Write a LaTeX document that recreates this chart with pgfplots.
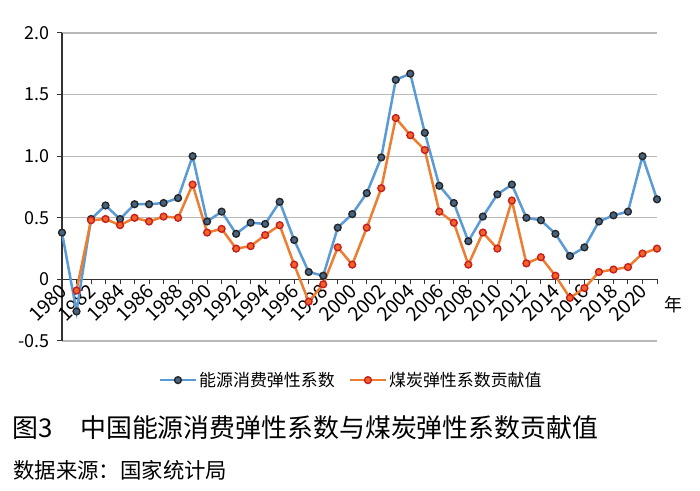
\documentclass[border=0pt]{standalone}
\usepackage{pgfplots}
\pgfplotsset{compat=1.18}
\usepackage{fontspec}
\setmainfont{Noto Sans CJK SC}
\definecolor{lblue}{RGB}{91,155,213}
\definecolor{lorange}{RGB}{237,125,49}
\definecolor{mblue}{RGB}{70,100,130}
\definecolor{mred}{RGB}{200,30,30}
\begin{document}
\begin{tikzpicture}
\useasboundingbox (0,0) rectangle (700bp,491bp);
\begin{axis}[
  at={(62bp,150bp)},anchor=south west,
  width=595bp,height=308bp,scale only axis,
  xmin=1980,xmax=2021,ymin=-0.5,ymax=2,
  axis y line=left,axis x line=middle,axis line style={-,black!80,line width=1.2bp},
  hide obscured x ticks=false,hide obscured y ticks=false,
  xtick={1980,1982,...,2020},
  minor xtick={1981,1983,...,2021},
  xticklabels={1980,1982,1984,1986,1988,1990,1992,1994,1996,1998,2000,2002,2004,2006,2008,2010,2012,2014,2016,2018,2020},
  ytick={-0.5,0,0.5,1,1.5,2},
  yticklabels={-0.5,0,0.5,1.0,1.5,2.0},
  tick align=outside,major tick length=5bp,minor tick length=5bp,
  tick style={black!80,line width=1bp},
  ymajorgrids,grid style={gray!55,line width=1.2bp},
  yticklabel style={font=\fontsize{18}{20}\selectfont,xshift=-4bp},
  xticklabel style={font=\fontsize{19.5}{21}\selectfont,rotate=45,anchor=east,xshift=2bp,yshift=-3bp},
  clip=false,
  legend style={at={(0.486,-0.127)},anchor=center,draw=none,fill=none,
    font=\fontsize{17}{19}\selectfont,legend columns=2,
    /tikz/every even column/.append style={column sep=12bp}},
  legend image code/.code={\draw[mark repeat=2,mark phase=2,#1] plot coordinates {(0bp,0bp) (18bp,0bp) (36bp,0bp)};},
]
\addplot[lblue,line width=2.5bp,mark=*,mark size=3.4bp,mark options={draw=black!85,fill=mblue,line width=1.4bp}] coordinates {
(1980,0.38) (1981,-0.26) (1982,0.49) (1983,0.60) (1984,0.49) (1985,0.61) (1986,0.61) (1987,0.62) (1988,0.66) (1989,1.00)
(1990,0.47) (1991,0.55) (1992,0.37) (1993,0.46) (1994,0.45) (1995,0.63) (1996,0.32) (1997,0.06) (1998,0.03) (1999,0.42)
(2000,0.53) (2001,0.70) (2002,0.99) (2003,1.62) (2004,1.67) (2005,1.19) (2006,0.76) (2007,0.62) (2008,0.31) (2009,0.51)
(2010,0.69) (2011,0.77) (2012,0.50) (2013,0.48) (2014,0.37) (2015,0.19) (2016,0.26) (2017,0.47) (2018,0.52) (2019,0.55)
(2020,1.00) (2021,0.65)};
\addlegendentry{能源消费弹性系数}
\addplot[lorange,line width=2.5bp,mark=*,mark size=3.4bp,mark options={draw=mred,fill=lorange!80!red,line width=1.4bp}] coordinates {
(1981,-0.09) (1982,0.48) (1983,0.49) (1984,0.44) (1985,0.50) (1986,0.47) (1987,0.51) (1988,0.50) (1989,0.77)
(1990,0.38) (1991,0.41) (1992,0.25) (1993,0.27) (1994,0.36) (1995,0.44) (1996,0.12) (1997,-0.18) (1998,-0.04) (1999,0.26)
(2000,0.12) (2001,0.42) (2002,0.74) (2003,1.31) (2004,1.17) (2005,1.05) (2006,0.55) (2007,0.46) (2008,0.12) (2009,0.38)
(2010,0.25) (2011,0.64) (2012,0.13) (2013,0.18) (2014,0.03) (2015,-0.15) (2016,-0.07) (2017,0.06) (2018,0.08) (2019,0.10)
(2020,0.21) (2021,0.25)};
\addlegendentry{煤炭弹性系数贡献值}
\end{axis}
\node[font=\fontsize{18}{20}\selectfont] at (673bp,186bp) {年};
\node[anchor=west,inner sep=0pt,font=\fontsize{26}{30}\selectfont] at (12bp,63bp) {图3};
\node[anchor=west,inner sep=0pt,font=\fontsize{26}{30}\selectfont] at (80bp,63bp) {中国能源消费弹性系数与煤炭弹性系数贡献值};
\node[anchor=west,inner sep=0pt,font=\fontsize{21.5}{24}\selectfont] at (13bp,21bp) {数据来源：国家统计局};
\end{tikzpicture}
\end{document}
